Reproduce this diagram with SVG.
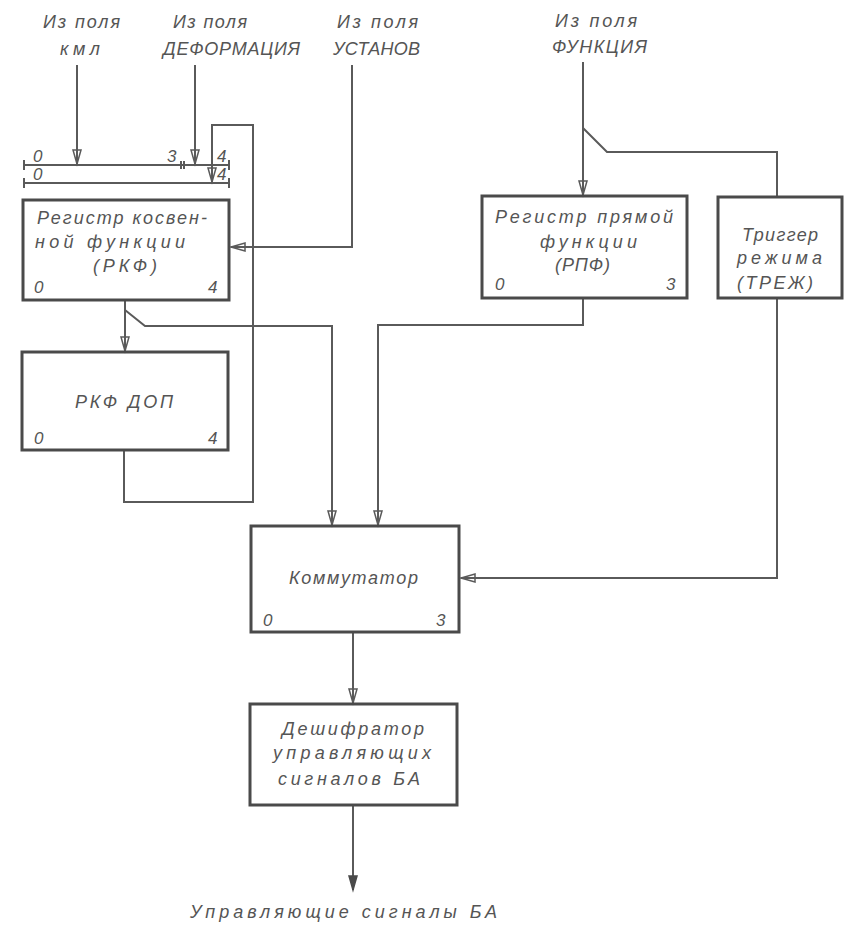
<svg xmlns="http://www.w3.org/2000/svg" width="856" height="925" viewBox="0 0 856 925">
<style>
text{font-family:"Liberation Sans","DejaVu Sans",sans-serif;font-style:italic;font-size:18px;fill:#555}
.box{fill:none;stroke:#4a4a4a;stroke-width:3}
.ln{fill:none;stroke:#5a5a5a;stroke-width:2}
.num{font-size:17px}
</style>
<defs>
<marker id="ar" markerUnits="userSpaceOnUse" markerWidth="20" markerHeight="12" viewBox="-15 -6 16 12" refX="0" refY="0" orient="auto">
<path d="M0,0 L-14,-4 L-14,4 Z" fill="none" stroke="#5a5a5a" stroke-width="1.5"/>
</marker>
<marker id="arf" markerUnits="userSpaceOnUse" markerWidth="20" markerHeight="12" viewBox="-15 -6 16 12" refX="0" refY="0" orient="auto">
<path d="M0,0 L-14,-4 L-14,4 Z" fill="#4a4a4a" stroke="#4a4a4a" stroke-width="1.5"/>
</marker>
</defs>
<rect width="856" height="925" fill="#fff"/>

<g id="labels">
<text x="43" y="28" textLength="77" lengthAdjust="spacing">Из поля</text>
<text x="60" y="55" textLength="40" lengthAdjust="spacing">кмл</text>
<text x="173" y="28" textLength="74" lengthAdjust="spacing">Из поля</text>
<text x="163" y="55" textLength="137" lengthAdjust="spacing">ДЕФОРМАЦИЯ</text>
<text x="337" y="28" textLength="81" lengthAdjust="spacing">Из поля</text>
<text x="333" y="55" textLength="87" lengthAdjust="spacing">УСТАНОВ</text>
<text x="555" y="27" textLength="82" lengthAdjust="spacing">Из поля</text>
<text x="552" y="53" textLength="95" lengthAdjust="spacing">ФУНКЦИЯ</text>
<text x="190" y="918" textLength="307" lengthAdjust="spacing">Управляющие  сигналы БА</text>
</g>

<g id="bus">
<line class="ln" x1="24" y1="165" x2="229" y2="165"/>
<line class="ln" x1="24" y1="160" x2="24" y2="170"/>
<line class="ln" x1="229" y1="160" x2="229" y2="170"/>
<line class="ln" x1="181" y1="161" x2="181" y2="169" stroke-width="1.5"/>
<line class="ln" x1="184" y1="161" x2="184" y2="169" stroke-width="1.5"/>
<line class="ln" x1="24" y1="183" x2="229" y2="183"/>
<line class="ln" x1="24" y1="178" x2="24" y2="188"/>
<line class="ln" x1="229" y1="178" x2="229" y2="188"/>
<text class="num" x="33" y="162">0</text>
<text class="num" x="167" y="162">3</text>
<text class="num" x="217" y="162">4</text>
<text class="num" x="33" y="180">0</text>
<text class="num" x="217" y="180">4</text>
</g>

<g id="connectors">
<path class="ln" d="M77,65 V164" marker-end="url(#ar)"/>
<path class="ln" d="M195,65 V164" marker-end="url(#ar)"/>
<path class="ln" d="M352,65 V247 H231" marker-end="url(#ar)"/>
<path class="ln" d="M124,450 V502 H253 V125 H212 V182" marker-end="url(#ar)"/>
<path class="ln" d="M125,300 V351" marker-end="url(#ar)"/>
<path class="ln" d="M125,310 L145,326 H332 V525" marker-end="url(#ar)"/>
<path class="ln" d="M583,62 V195" marker-end="url(#ar)"/>
<path class="ln" d="M583,128 L607,152 H777 V197"/>
<path class="ln" d="M583,298 V325 H378 V525" marker-end="url(#ar)"/>
<path class="ln" d="M777,298 V578 H461" marker-end="url(#ar)"/>
<path class="ln" d="M353,632 V703" marker-end="url(#ar)"/>
<path class="ln" d="M353,805 V890" marker-end="url(#arf)"/>
</g>

<g id="rkf">
<rect class="box" x="23" y="200" width="206" height="100"/>
<text x="37" y="224" textLength="170" lengthAdjust="spacing">Регистр косвен-</text>
<text x="35" y="248" textLength="150" lengthAdjust="spacing">ной  функции</text>
<text x="93" y="272" textLength="64" lengthAdjust="spacing">(РКФ)</text>
<text class="num" x="34" y="293">0</text>
<text class="num" x="208" y="293">4</text>
</g>

<g id="rkf-dop">
<rect class="box" x="22" y="352" width="206" height="98"/>
<text x="75" y="408" textLength="98" lengthAdjust="spacing">РКФ  ДОП</text>
<text class="num" x="34" y="444">0</text>
<text class="num" x="208" y="444">4</text>
</g>

<g id="rpf">
<rect class="box" x="482" y="196" width="205" height="102"/>
<text x="495" y="223" textLength="178" lengthAdjust="spacing">Регистр  прямой</text>
<text x="540" y="248" textLength="97" lengthAdjust="spacing">функции</text>
<text x="555" y="271" textLength="55" lengthAdjust="spacing">(РПФ)</text>
<text class="num" x="495" y="290">0</text>
<text class="num" x="666" y="290">3</text>
</g>

<g id="trej">
<rect class="box" x="718" y="197" width="124" height="101"/>
<text x="742" y="241" textLength="76" lengthAdjust="spacing">Триггер</text>
<text x="737" y="264" textLength="85" lengthAdjust="spacing">режима</text>
<text x="737" y="289" textLength="76" lengthAdjust="spacing">(ТРЕЖ)</text>
</g>

<g id="kommutator">
<rect class="box" x="251" y="526" width="208" height="106"/>
<text x="289" y="584" textLength="129" lengthAdjust="spacing">Коммутатор</text>
<text class="num" x="263" y="626">0</text>
<text class="num" x="436" y="626">3</text>
</g>

<g id="deshifrator">
<rect class="box" x="250" y="704" width="207" height="101"/>
<text x="282" y="735" textLength="142" lengthAdjust="spacing">Дешифратор</text>
<text x="273" y="759" textLength="158" lengthAdjust="spacing">управляющих</text>
<text x="278" y="785" textLength="142" lengthAdjust="spacing">сигналов  БА</text>
</g>
</svg>
